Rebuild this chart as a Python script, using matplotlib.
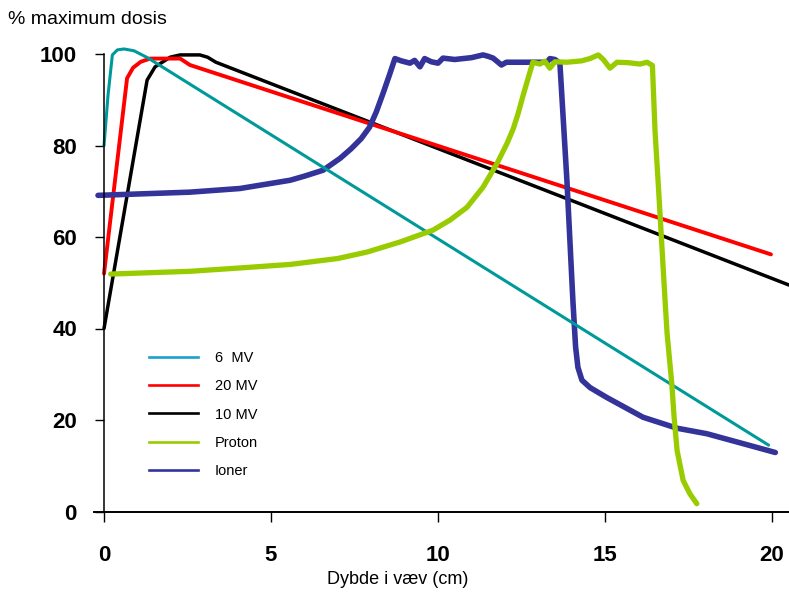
import matplotlib
matplotlib.use("Agg")
import matplotlib.pyplot as plt
from matplotlib.lines import Line2D

plt.rcParams["font.family"] = ["Liberation Sans", "DejaVu Sans"]

# depth (cm) / % of max dose
mv6_x = [0, 0.12, 0.25, 0.4, 0.6, 0.9, 1.3, 19.9]
mv6_y = [80, 91, 99.8, 100.9, 101.1, 100.7, 99.2, 14.5]

mv20_x = [0, 0.69, 0.87, 1.1, 1.38, 2.28, 2.57, 19.97]
mv20_y = [52, 94.7, 97, 98.3, 99, 99, 97.6, 56.2]

mv10_x = [0, 1.29, 1.53, 1.98, 2.28, 2.87, 3.1, 3.35, 20.51]
mv10_y = [40, 94.3, 97.2, 99.3, 99.8, 99.8, 99.3, 98.2, 49.5]

proton_x = [0.2, 2.57, 4.0, 5.57, 7.0, 7.87, 8.86, 9.85, 10.36, 10.87, 11.35,
            11.77, 12.07, 12.25, 12.4, 12.55, 12.84, 13.05, 13.2, 13.35, 13.5,
            13.86, 14.3, 14.55, 14.8, 14.95, 15.15, 15.36, 15.7, 16.05, 16.26,
            16.42, 16.5, 16.6, 16.8, 16.86, 17.0, 17.07, 17.16, 17.34, 17.54, 17.75]
proton_y = [51.9, 52.5, 53.2, 54.0, 55.3, 56.7, 58.9, 61.5, 63.7, 66.5, 70.9,
            76.1, 80.5, 83.6, 87, 91, 98.2, 97.8, 98.4, 96.9, 98.3,
            98.2, 98.5, 99, 99.8, 98.8, 96.9, 98.2, 98.1, 97.8, 98.2,
            97.5, 83, 71, 46, 38.9, 28, 20.6, 13.3, 6.8, 3.9, 1.7]

ioner_x = [-0.18, 2.57, 4.07, 5.57, 6.0, 6.56, 7.07, 7.4, 7.7, 7.95,
           8.15, 8.35, 8.55, 8.71, 8.9, 9.16, 9.3, 9.46, 9.6, 9.8, 10.0,
           10.15, 10.5, 11.0, 11.35, 11.5, 11.65, 11.9, 12.05, 13.26, 13.35,
           13.5, 13.65, 13.86, 14.04, 14.12, 14.19, 14.31, 14.55, 14.85, 15.06,
           16.14, 17.16, 18.05, 20.1]
ioner_y = [69.1, 69.8, 70.6, 72.4, 73.3, 74.6, 77.2, 79.3, 81.5, 84,
           87.3, 91.3, 95.5, 99, 98.5, 98, 98.6, 97.2, 99, 98.3, 98,
           99.1, 98.8, 99.2, 99.8, 99.5, 99.1, 97.6, 98.2, 98.2, 99,
           98.8, 98, 72.4, 46, 36, 31.5, 28.7, 27.1, 25.8, 24.9,
           20.6, 18.2, 17, 12.9]

labels = ["6  MV", "20 MV", "10 MV", "Proton", "Ioner"]
x_ticks = [0, 5, 10, 15, 20]
y_ticks = [0, 20, 40, 60, 80, 100]

fig = plt.figure(figsize=(7.89, 5.92), dpi=100)
ax = fig.add_axes([94 / 789, 80.5 / 592, 695 / 789, 475.8 / 592])

style = dict(solid_capstyle="round", solid_joinstyle="round", clip_on=False)
ax.plot(mv10_x, mv10_y, color="black", lw=2.5, **style)
ax.plot(mv20_x, mv20_y, color="#ff0000", lw=2.8, **style)
ax.plot(ioner_x, ioner_y, color="#333399", lw=4, **style)
ax.plot(mv6_x, mv6_y, color="#009999", lw=2.2, **style)
ax.plot(proton_x, proton_y, color="#99cc00", lw=3.8, **style)

ax.set_xlim(-0.3, 20.51)
ax.set_ylim(0, 104)

for s in ["top", "right"]:
    ax.spines[s].set_visible(False)
ax.spines["left"].set_position(("data", 0))
ax.spines["left"].set_bounds(0, 100)
ax.spines["left"].set_linewidth(1.1)
ax.spines["bottom"].set_linewidth(1.4)

ax.set_xticks(x_ticks)
ax.set_yticks(y_ticks)
ax.tick_params(axis="x", direction="out", length=7, width=1, pad=17, labelsize=16)
ax.tick_params(axis="y", direction="out", length=6.5, width=1, pad=13, labelsize=16)
for t in ax.get_xticklabels() + ax.get_yticklabels():
    t.set_fontweight("bold")

fig.text(8 / 789, 1 - 20 / 592, "% maximum dosis", fontsize=14, va="center", ha="left")
fig.text(398 / 789, 1 - 580 / 592, "Dybde i væv (cm)", fontsize=13, va="center", ha="center")

leg_colors = ["#1ba1cf", "#ff0000", "black", "#99cc00", "#3333a0"]
handles = [Line2D([], [], color=c, lw=1.9) for c in leg_colors]
ax.legend(handles, labels, loc="upper left",
          bbox_to_anchor=(149 / 789, 1 - 351 / 592), bbox_transform=fig.transFigure,
          frameon=False, fontsize=10.5, handlelength=3.36, handletextpad=1.16,
          labelspacing=0.98, borderpad=0, borderaxespad=0)

fig.savefig("out.png", dpi=100)
